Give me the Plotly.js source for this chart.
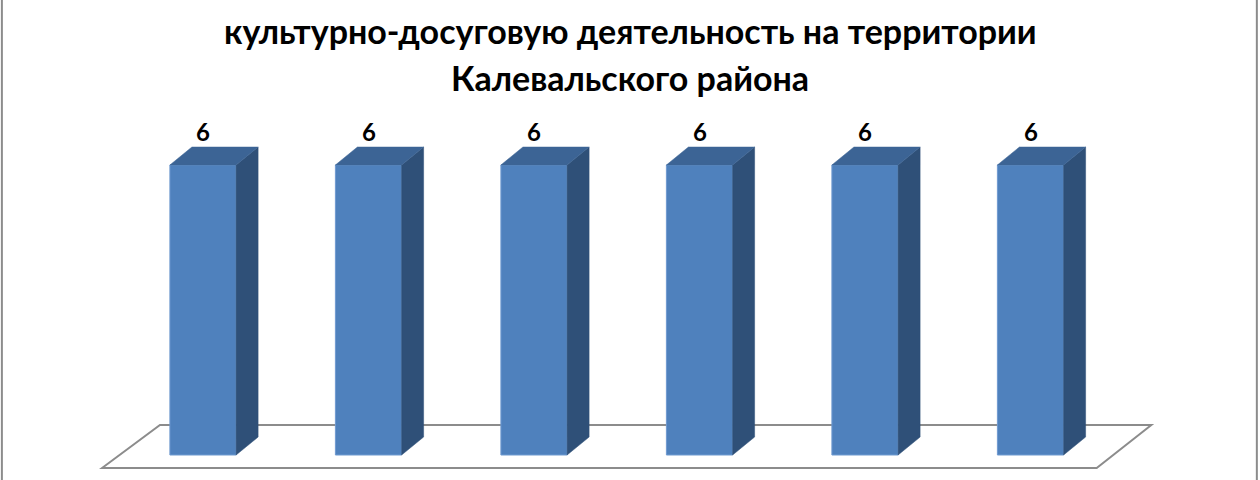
<!DOCTYPE html>
<html>
<head>
<meta charset="utf-8">
<script src="https://cdn.plot.ly/plotly-3.0.1.min.js"></script>
<style>html,body{margin:0;padding:0;background:#fff;}#chart{width:1260px;height:480px;}</style>
</head>
<body>
<div id="chart"></div>
<script>
// ---- data ----
const categories = [0, 1, 2, 3, 4, 5];
const values = [6, 6, 6, 6, 6, 6];
const labels = ['6', '6', '6', '6', '6', '6'];
const titleLines = ['культурно-досуговую деятельность на территории', 'Калевальского района'];

// ---- style ----
const BW = 0.4;      // front face width (category units)
const DX = 0.133;    // depth offset x (category units)
const DY = 0.372;    // depth offset y (value units)
const FRONT = '#4F81BD', SIDE = '#2F5078', TOP = '#3C6495';
const FONT = 'Lato, "Open Sans", sans-serif';
const H = 480;

const traces = [];
traces.push({
  type: 'bar', x: categories, y: values, width: BW, base: 0,
  marker: {color: FRONT, line: {color: '#6F9AD0', width: 1}},
  hoverinfo: 'skip', showlegend: false
});
categories.forEach((c, i) => {
  const v = values[i];
  const r = c + BW / 2, l = c - BW / 2;
  traces.push({
    type: 'scatter', mode: 'lines', fill: 'toself', fillcolor: SIDE,
    line: {color: SIDE, width: 0.5},
    x: [r, r + DX, r + DX, r, r], y: [0, DY, v + DY, v, 0],
    hoverinfo: 'skip', showlegend: false
  });
  traces.push({
    type: 'scatter', mode: 'lines', fill: 'toself', fillcolor: TOP,
    line: {color: TOP, width: 0.5},
    x: [l, l + DX, r + DX, r, l], y: [v, v + DY, v + DY, v, v],
    hoverinfo: 'skip', showlegend: false
  });
});

const first = categories[0], last = categories[categories.length - 1];
const fl = first - 0.61, fb = first - 0.26, br = last + 0.73, fr = last + 0.40;
const yF = -0.27, yB = 0.62;

const titleCenters = [31, 77]; // px from top
const annotations = titleLines.map((t, k) => ({
  x: 0.5, y: 1 - titleCenters[k] / H, xref: 'paper', yref: 'paper',
  xanchor: 'center', yanchor: 'middle', showarrow: false, text: t,
  font: {family: FONT, size: 34, color: '#000', weight: 'bold'}
})).concat(categories.map((c, i) => ({
  x: c, y: values[i] + DY, xref: 'x', yref: 'y',
  text: labels[i], showarrow: false, yanchor: 'bottom', yshift: -1,
  font: {family: FONT, size: 24, color: '#000', weight: 'bold'}
})));

const layout = {
  width: 1260, height: H,
  margin: {l: 0, r: 0, t: 0, b: 0},
  paper_bgcolor: '#ffffff', plot_bgcolor: 'rgba(0,0,0,0)',
  showlegend: false,
  xaxis: {range: [-1.2266, 6.3867], visible: false, fixedrange: true},
  yaxis: {range: [-0.5172, 9.414], visible: false, fixedrange: true},
  annotations: annotations,
  shapes: [
    {type: 'path', xref: 'x', yref: 'y', layer: 'below',
     path: `M ${fl} ${yF} L ${fb} ${yB} L ${br} ${yB} L ${fr} ${yF} Z`,
     line: {color: '#8C8C8C', width: 2}, fillcolor: 'rgba(0,0,0,0)'},
    {type: 'line', xref: 'paper', yref: 'paper', x0: 0.0015, x1: 0.0015, y0: 0, y1: 1,
     line: {color: '#8C8C8C', width: 2}},
    {type: 'line', xref: 'paper', yref: 'paper', x0: 0.9975, x1: 0.9975, y0: 0, y1: 1,
     line: {color: '#8C8C8C', width: 2}}
  ]
};

Plotly.newPlot('chart', traces, layout, {displayModeBar: false, staticPlot: true});
</script>
</body>
</html>
